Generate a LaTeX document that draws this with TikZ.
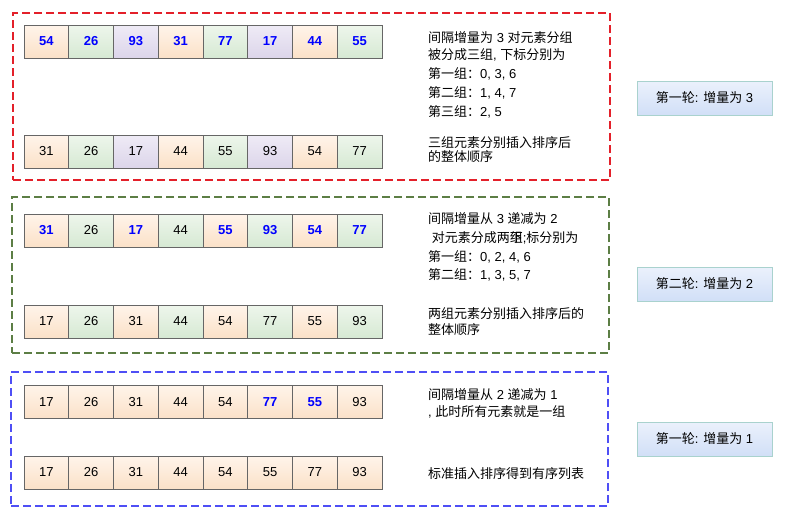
\documentclass[tikz,border=0pt]{standalone}
\usepackage{fontspec}
\setmainfont{Liberation Sans}
\newfontfamily\cjk{Noto Sans CJK SC}
\newcommand{\C}[1]{{\cjk #1}}
\newcommand{\hl}[1]{{\color{hlblue}\bfseries #1}}
\definecolor{hlblue}{HTML}{0000FF}
\definecolor{oTop}{HTML}{FFF4EA}
\definecolor{oBot}{HTML}{FBE1C8}
\definecolor{gTop}{HTML}{EEF6EC}
\definecolor{gBot}{HTML}{D6E9D3}
\definecolor{pTop}{HTML}{EFEBF6}
\definecolor{pBot}{HTML}{DCD5EA}
\definecolor{bTop}{HTML}{EBF1FC}
\definecolor{bBot}{HTML}{D1DFF7}
\definecolor{bBorder}{HTML}{A9D2CE}
\definecolor{cellBorder}{HTML}{666666}
\definecolor{dashRed}{HTML}{E3202A}
\definecolor{dashGreen}{HTML}{5C7E45}
\definecolor{dashBlue}{HTML}{4F4FF5}
\begin{document}
\begin{tikzpicture}[x=1pt,y=-1pt,
  cell/.style={draw=cellBorder, line width=1pt, minimum width=44.75pt, minimum height=33pt, inner sep=0pt, font=\fontsize{13}{15}\selectfont},
  co/.style={top color=oTop, bottom color=oBot},
  cg/.style={top color=gTop, bottom color=gBot},
  cp/.style={top color=pTop, bottom color=pBot},
  frame/.style={dashed, line width=1.1pt, dash pattern=on 8pt off 4pt, inner sep=0pt},
  note/.style={anchor=west, inner sep=0pt, font=\fontsize{13}{15}\selectfont},
  roundbox/.style={draw=bBorder, line width=1pt, top color=bTop, bottom color=bBot, minimum width=135pt, minimum height=34pt, inner sep=0pt, font=\fontsize{13}{15}\selectfont}
]
\useasboundingbox (0,0) rectangle (800,528);
\fill[white] (0,0) rectangle (800,528);

% dashed frames
\node[frame, draw=dashRed, minimum width=597pt, minimum height=167pt] (f1) at (311.5,96.5) {};
\node[frame, draw=dashGreen, minimum width=597pt, minimum height=156pt] (f2) at (310.5,275) {};
\node[frame, draw=dashBlue, minimum width=597pt, minimum height=134pt] (f3) at (309.5,439) {};

% round 1
\foreach \s/\v [count=\i] in {co/\hl{54},cg/\hl{26},cp/\hl{93},co/\hl{31},cg/\hl{77},cp/\hl{17},co/\hl{44},cg/\hl{55}}
  \node[cell,\s] (a\i) at ({24+44.75*(\i-0.5)},41.5) {\v};
\foreach \s/\v [count=\i] in {co/31,cg/26,cp/17,co/44,cg/55,cp/93,co/54,cg/77}
  \node[cell,\s] (b\i) at ({24+44.75*(\i-0.5)},151.5) {\v};

% round 2
\foreach \s/\v [count=\i] in {co/\hl{31},cg/26,co/\hl{17},cg/44,co/\hl{55},cg/\hl{93},co/\hl{54},cg/\hl{77}}
  \node[cell,\s] (c\i) at ({24+44.75*(\i-0.5)},230.5) {\v};
\foreach \s/\v [count=\i] in {co/17,cg/26,co/31,cg/44,co/54,cg/77,co/55,cg/93}
  \node[cell,\s] (d\i) at ({24+44.75*(\i-0.5)},321.5) {\v};

% round 3
\foreach \v [count=\i] in {17,26,31,44,54,\hl{77},\hl{55},93}
  \node[cell,co] (e\i) at ({24+44.75*(\i-0.5)},402) {\v};
\foreach \v [count=\i] in {17,26,31,44,54,55,77,93}
  \node[cell,co] (g\i) at ({24+44.75*(\i-0.5)},472.5) {\v};

% notes round 1
\node[note] (n11) at (428,38) {\C{间隔增量为} 3 \C{对元素分组}};
\node[note] (n12) at (428,55) {\C{被分成三组}, \C{下标分别为}};
\node[note] (n13) at (428,74) {\C{第一组：}0, 3, 6};
\node[note] (n14) at (428,93) {\C{第二组：}1, 4, 7};
\node[note] (n15) at (428,112) {\C{第三组：}2, 5};
\node[note] (n16) at (428,143) {\C{三组元素分别插入排序后}};
\node[note] (n17) at (428,157) {\C{的整体顺序}};

% notes round 2
\node[note] (n21) at (428,219) {\C{间隔增量从} 3 \C{递减为} 2};
\node[note] (n22) at (428,238) {\ \C{对元素分成两组}\kern-13pt\C{下};\C{标分别为}};
\node[note] (n23) at (428,257) {\C{第一组：}0, 2, 4, 6};
\node[note] (n24) at (428,275) {\C{第二组：}1, 3, 5, 7};
\node[note] (n25) at (428,314) {\C{两组元素分别插入排序后的}};
\node[note] (n26) at (428,330) {\C{整体顺序}};

% notes round 3
\node[note] (n31) at (428,395) {\C{间隔增量从} 2 \C{递减为} 1};
\node[note] (n32) at (428,412) {, \C{此时所有元素就是一组}};
\node[note] (n33) at (428,474) {\C{标准插入排序得到有序列表}};

% round labels
\node[roundbox] (r1) at (704.5,98) {\C{第一轮}: \C{增量为} 3};
\node[roundbox] (r2) at (704.5,284) {\C{第二轮}: \C{增量为} 2};
\node[roundbox] (r3) at (704.5,439) {\C{第一轮}: \C{增量为} 1};
\end{tikzpicture}
\end{document}
